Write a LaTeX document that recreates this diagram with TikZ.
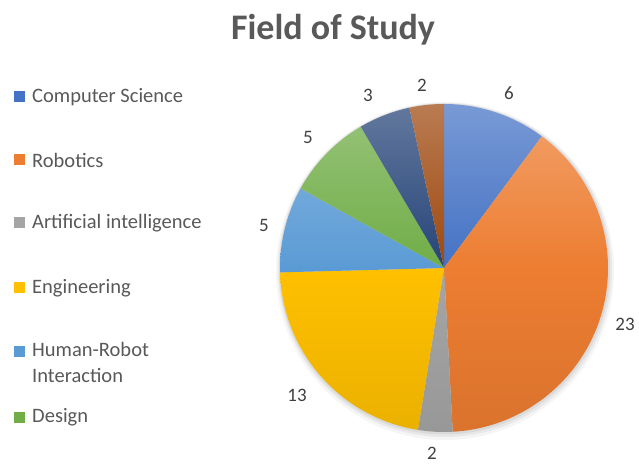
\documentclass[tikz,border=0pt]{standalone}
\usepackage{fontspec}
\setmainfont{Carlito}
\definecolor{cs}{HTML}{4472C4}
\definecolor{rob}{HTML}{ED7D31}
\definecolor{ai}{HTML}{A5A5A5}
\definecolor{eng}{HTML}{FFC000}
\definecolor{hri}{HTML}{5B9BD5}
\definecolor{des}{HTML}{70AD47}
\definecolor{dkb}{HTML}{264478}
\definecolor{dko}{HTML}{9E480E}
\definecolor{titlegray}{HTML}{595959}
\definecolor{labgray}{HTML}{404040}
\newcommand\pcx{444}
\newcommand\pcy{195}
\newcommand\prad{164}
\newcommand\myslice[3]{%
  \begin{scope}
    \clip (\pcx,\pcy) -- ++(#1:\prad) arc[start angle=#1, end angle=#2, radius=\prad] -- cycle;
    \shade[top color=#3!72!white, bottom color=#3!92!black, middle color=#3]
      (\pcx-\prad,\pcy-\prad) rectangle (\pcx+\prad,\pcy+\prad);
  \end{scope}}
\tikzset{
  legtext/.style={anchor=west, text=titlegray, font=\fontsize{20.5}{26}\selectfont, inner sep=0pt, align=left},
  datalab/.style={text=labgray, font=\fontsize{19}{22}\selectfont, inner sep=0pt},
  legbox/.style={minimum size=11pt, inner sep=0pt, draw=none}
}
\begin{document}
\begin{tikzpicture}[x=1pt,y=1pt]
\useasboundingbox (0,0) rectangle (639,463);
\fill[white] (0,0) rectangle (639,463);
% soft shadow
\fill[black,opacity=0.04] (\pcx+1,\pcy-3) circle (\prad+5);
\fill[black,opacity=0.05] (\pcx+1,\pcy-2) circle (\prad+3);
\fill[black,opacity=0.06] (\pcx+0.5,\pcy-1) circle (\prad+1.5);
% slices
\myslice{90}{53.39}{cs}
\myslice{53.39}{-86.95}{rob}
\myslice{-86.95}{-99.15}{ai}
\myslice{-99.15}{-178.47}{eng}
\myslice{-178.47}{-208.98}{hri}
\myslice{-208.98}{-239.49}{des}
\myslice{-239.49}{-257.80}{dkb}
\myslice{-257.80}{-270}{dko}
% title
\node[text=titlegray, font=\bfseries\fontsize{36}{40}\selectfont, inner sep=0pt] (title) at (333,433) {Field of Study};
% data labels
\node[datalab] (l6) at (509,370) {6};
\node[datalab] (l23) at (625,139) {23};
\node[datalab] (l2b) at (432,10) {2};
\node[datalab] (l13) at (297,68) {13};
\node[datalab] (l5a) at (264,238) {5};
\node[datalab] (l5b) at (308,326) {5};
\node[datalab] (l3) at (368,368) {3};
\node[datalab] (l2t) at (422,378) {2};
% legend
\node[legbox, fill=cs] (k1) at (19.5,366) {};
\node[legtext] (t1) at (32,366) {Computer Science};
\node[legbox, fill=rob] (k2) at (19.5,303) {};
\node[legtext] (t2) at (32,303) {Robotics};
\node[legbox, fill=ai] (k3) at (19.5,240) {};
\node[legtext] (t3) at (32,240) {Artificial intelligence};
\node[legbox, fill=eng] (k4) at (19.5,175) {};
\node[legtext] (t4) at (32,175) {Engineering};
\node[legbox, fill=hri] (k5) at (19.5,111) {};
\node[legtext, anchor=north west] (t5) at (32,121) {Human-Robot\\Interaction};
\node[legbox, fill=des] (k6) at (19.5,46) {};
\node[legtext] (t6) at (32,46) {Design};
\end{tikzpicture}
\end{document}
